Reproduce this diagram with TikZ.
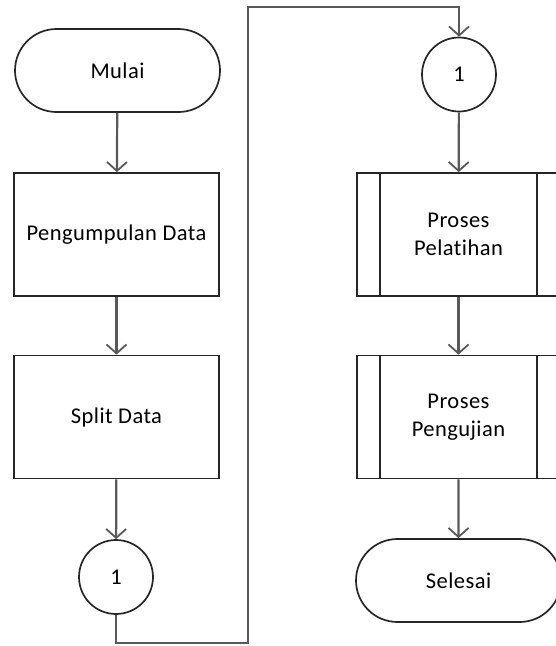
\documentclass[tikz,border=0pt]{standalone}
\usepackage{fontspec}
\setmainfont[Ligatures=NoCommon,LetterSpace=2]{Carlito}
\usetikzlibrary{arrows.meta,shapes.misc}
\definecolor{lin}{HTML}{595959}
\begin{document}
\begin{tikzpicture}[x=1pt,y=-1pt,
  base/.style={draw=black!85,line width=1.7pt,fill=white,align=center,inner sep=0pt,
    font=\fontsize{22.5}{28}\selectfont},
  term/.style={base,rounded rectangle,minimum width=205pt,minimum height=83pt},
  procbox/.style={base,rectangle,minimum width=205pt,minimum height=123pt},
  subbox/.style={base,rectangle,minimum width=203pt,minimum height=123pt},
  conn/.style={circle,base,minimum size=74pt},
  arr/.style={draw=lin,line width=2.2pt,-{Straight Barb[length=9pt,width=20pt,line width=1.8pt]}},
  wire/.style={draw=lin,line width=2.2pt}]
\useasboundingbox (0,0) rectangle (555,646);
\node[term] (mulai) at (117.5,70.5) {Mulai};
\node[procbox] (data) at (116.5,234.5) {Pengumpulan Data};
\node[procbox] (split) at (116.5,417) {Split Data};
\node[conn] (c1) at (116,577) {1};
\node[conn] (c2) at (459,74.5) {1};
\node[subbox] (latih) at (458.5,234.5) {Proses\\Pelatihan};
\node[subbox] (uji) at (458.5,417) {Proses\\Pengujian};
\node[term] (selesai) at (458.5,580.5) {Selesai};
\foreach \n in {latih,uji}{
  \draw[draw=black!85,line width=1.7pt] ([xshift=24pt]\n.north west) -- ([xshift=24pt]\n.south west);
  \draw[draw=black!85,line width=1.7pt] ([xshift=-24pt]\n.north east) -- ([xshift=-24pt]\n.south east);
}
\coordinate (b1) at (248,643);
\coordinate (t1) at (248,7);
\draw[arr] (mulai) -- (data);
\draw[arr] (data) -- (split);
\draw[arr] (split) -- (c1);
\draw[arr] (c1.south) |- (b1) -- (t1) -| (c2.north);
\draw[arr] (c2) -- (latih);
\draw[arr] (latih) -- (uji);
\draw[arr] (uji) -- (selesai);
\end{tikzpicture}
\end{document}
